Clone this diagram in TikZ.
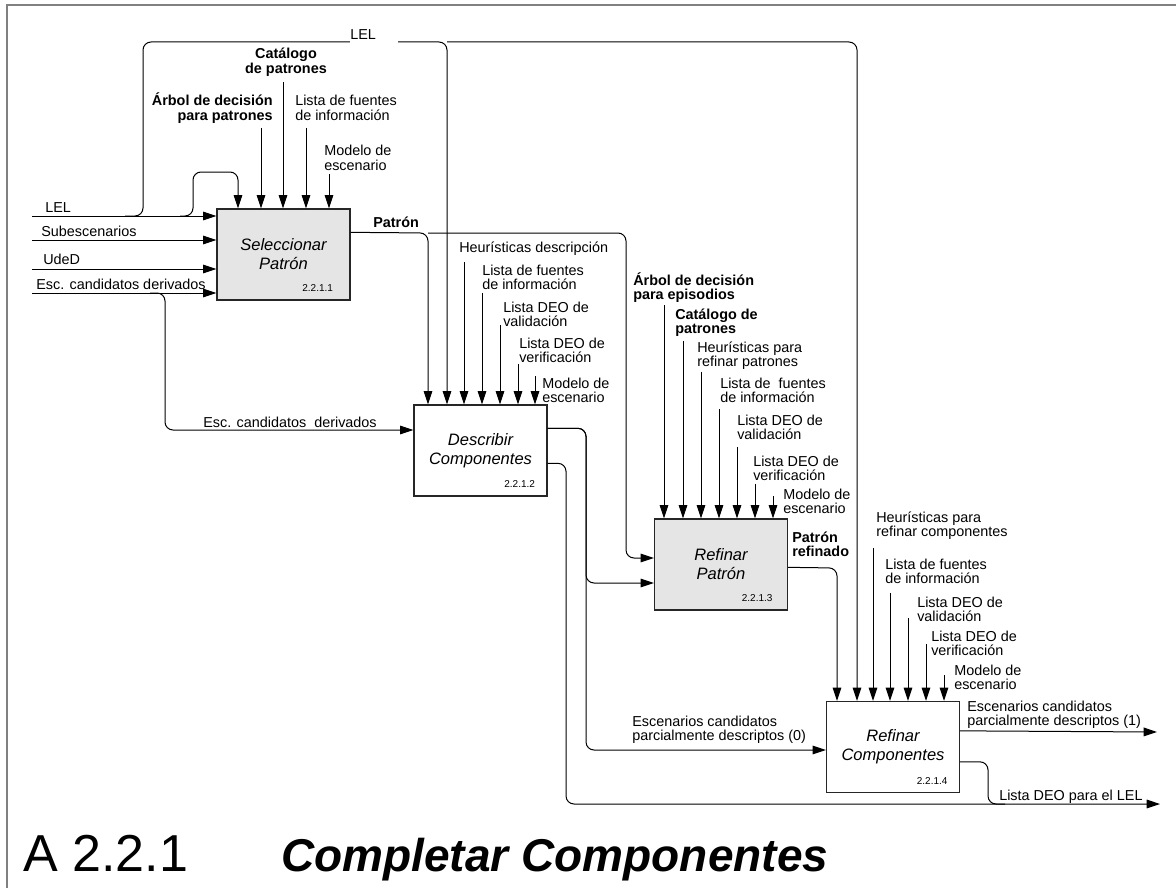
\documentclass[tikz,border=0pt]{standalone}
\usepackage{fontspec}
\setmainfont{Liberation Sans}
\usetikzlibrary{arrows.meta,calc}
\begin{document}
\begin{tikzpicture}[x=0.75pt,y=-0.75pt,
  proc/.style={draw=black!85, line width=1pt, minimum width=99.75pt, minimum height=68.25pt, inner sep=0pt,
    align=center, font=\fontsize{12.4}{14.3}\selectfont\itshape},
  grayproc/.style={proc, fill=black!10},
  num/.style={font=\fontsize{7.5}{9}\selectfont, inner sep=0pt, anchor=base},
  lbl/.style={font=\fontsize{10.8}{11}\selectfont, inner sep=0pt, align=left, anchor=base west},
  blbl/.style={lbl, font=\fontsize{10.8}{11}\selectfont\bfseries},
  two/.style={yshift=-11pt},
  flow/.style={line width=0.75pt, -{Triangle[length=10pt,width=6.5pt]}, rounded corners=6pt},
  wire/.style={line width=0.75pt, rounded corners=6pt}]
\useasboundingbox (0,0) rectangle (1176,888);
% frame
\draw[black!50, line width=1.5pt] (7,888) -- (7,5) -- (1176,5);

% boxes
\node[grayproc] (b1) at (283.5,254.5) {Seleccionar\\Patrón};
\node[proc] (b2) at (480.5,450.5) {Describir\\Componentes};
\node[grayproc] (b3) at (721,564.5) {Refinar\\Patrón};
\node[proc] (b4) at (893,747) {Refinar\\Componentes};
\node[num] (n1) at ($(b1.south east)+(-33,-9)$) {2.2.1.1};
\node[num] (n2) at ($(b2.south east)+(-28,-9)$) {2.2.1.2};
\node[num] (n3) at ($(b3.south east)+(-31,-9)$) {2.2.1.3};
\node[num] (n4) at ($(b4.south east)+(-28,-9)$) {2.2.1.4};

% ---- box 1 inputs
\coordinate (inLEL) at (32,216);
\coordinate (inSub) at (32,240);
\coordinate (inUde) at (32,269);
\coordinate (inEsc) at (32,293);
\draw[flow] (inLEL) -- (inLEL -| b1.west);
\draw[flow] (inSub) -- (inSub -| b1.west);
\draw[flow] (inUde) -- (inUde -| b1.west);
\draw[flow] (inEsc) -- (inEsc -| b1.west);
\node[lbl] (lLEL) at (45,212) {LEL};
\node[lbl] (lSub) at (41,236) {Subescenarios};
\node[lbl] (lUde) at (43,264) {UdeD};
\node[lbl] (lEsc) at (36,289) {Esc. candidatos derivados};

% LEL loop into box1 top
\coordinate (lelA) at (180,216);
\coordinate (lelB) at (193,172);
\coordinate (lelC) at (238,172);
\draw[flow] (lelA) -| (lelB) -- (lelC) -- (lelC |- b1.north);

% LEL top branch
\coordinate (lelD) at (125,216);
\coordinate (lelE) at (143,42);
\coordinate (lelF) at (447,42);
\coordinate (lelG) at (857,42);
\draw[flow] (lelD) -| (lelE) -- (lelF) -- (lelF |- b2.north);
\draw[flow] (lelF) -- (lelG) -- (lelG |- b4.north);
\node[lbl, fill=white, inner ysep=2pt, text width=36pt] (lLELtop) at (350,40) {LEL};

% box1 controls
\coordinate (c1a) at (261,128);
\coordinate (c1b) at (283,82);
\coordinate (c1c) at (306,128);
\coordinate (c1d) at (329,174);
\draw[flow] (c1a) -- (c1a |- b1.north);
\draw[flow] (c1b) -- (c1b |- b1.north);
\draw[flow] (c1c) -- (c1c |- b1.north);
\draw[flow] (c1d) -- (c1d |- b1.north);
\node[blbl, two, align=center, anchor=base] (l1b) at (286,59) {Catálogo\\de patrones};
\node[blbl, two, align=right, anchor=base east] (l1a) at (273,106) {Árbol de decisión\\para patrones};
\node[lbl, two] (l1c) at (295,106) {Lista de fuentes\\de información};
\node[lbl, two] (l1d) at (324,156) {Modelo de\\escenario};

% Patron output
\coordinate (patA) at ($(b1.north east)+(0,24)$);
\coordinate (patB) at (428,233);
\coordinate (patC) at (626,233);
\coordinate (patD) at (626,558);
\draw[flow] (patA) -- (patB) -- (patB |- b2.north);
\draw[flow] (patB) -- (patC) -- (patD) -- (patD -| b3.west);
\node[blbl] (lPat) at (373,227) {Patrón};

% Esc. candidatos derivados to box2
\coordinate (escA) at (150,293);
\coordinate (escB) at (165,430);
\draw[flow] (escA) -| (escB) -- (escB -| b2.west);
\node[lbl] (lEsc2) at (203,427) {Esc. candidatos~~derivados};

% box2 controls
\coordinate (c2a) at (464,262);
\coordinate (c2b) at (482,293);
\coordinate (c2c) at (500,325);
\coordinate (c2d) at (518,364);
\coordinate (c2e) at (535,376);
\foreach \c in {c2a,c2b,c2c,c2d,c2e} \draw[flow] (\c) -- (\c |- b2.north);
\node[lbl] (l2a) at (459,252) {Heurísticas descripción};
\node[lbl, two] (l2b) at (482,275) {Lista de fuentes\\de información};
\node[lbl, two] (l2c) at (503,312) {Lista DEO de\\validación};
\node[lbl, two] (l2d) at (519,348) {Lista DEO de\\verificación};
\node[lbl, two] (l2e) at (542,388) {Modelo de\\escenario};

% box2 outputs
\coordinate (o2a) at ($(b2.north east)+(0,24)$);
\coordinate (o2b) at (586,583);
\coordinate (o2c) at (586,750);
\draw[flow] (o2a) -| (o2b) -- (o2b -| b3.west);
\draw[flow] (o2a) -| (o2c) -- (o2c -| b4.west);
\node[lbl, two] (lE0) at (632,726) {Escenarios candidatos\\parcialmente descriptos (0)};
\coordinate (o2d) at ($(b2.north east)+(0,59)$);
\coordinate (o2e) at (566,804);
\coordinate (outLEL) at (1160,804);
\draw[flow] (o2d) -| (o2e) -- (outLEL);

% box3 controls
\coordinate (c3a) at (664,305);
\coordinate (c3b) at (683,341);
\coordinate (c3c) at (701,372);
\coordinate (c3d) at (719,409);
\coordinate (c3e) at (737,447);
\coordinate (c3f) at (755,484);
\coordinate (c3g) at (773,496);
\foreach \c in {c3a,c3b,c3c,c3d,c3e,c3f,c3g} \draw[flow] (\c) -- (\c |- b3.north);
\node[blbl, two] (l3a) at (633,285) {Árbol de decisión\\para episodios};
\node[blbl, two] (l3b) at (675,319) {Catálogo de\\patrones};
\node[lbl, two] (l3c) at (697,352) {Heurísticas para\\refinar patrones};
\node[lbl, two] (l3d) at (720,388) {Lista de~~fuentes\\de información};
\node[lbl, two] (l3e) at (737,425) {Lista DEO de\\validación};
\node[lbl, two] (l3f) at (753,466) {Lista DEO de\\verificación};
\node[lbl, two] (l3g) at (783,499) {Modelo de\\escenario};

% box3 output
\coordinate (o3a) at ($(b3.north east)+(0,49)$);
\coordinate (o3b) at (837,568);
\draw[flow] (o3a) -- (o3b) -- (o3b |- b4.north);
\node[blbl, two] (lPR) at (792,542) {Patrón\\refinado};

% box4 controls
\coordinate (c4a) at (873,548);
\coordinate (c4b) at (890,593);
\coordinate (c4c) at (908,618);
\coordinate (c4d) at (926,644);
\coordinate (c4e) at (944,675);
\foreach \c in {c4a,c4b,c4c,c4d,c4e} \draw[flow] (\c) -- (\c |- b4.north);
\node[lbl, two] (l4a) at (876,522) {Heurísticas para\\refinar componentes};
\node[lbl, two] (l4b) at (885,569) {Lista de fuentes\\de información};
\node[lbl, two] (l4c) at (917,607) {Lista DEO de\\validación};
\node[lbl, two] (l4d) at (931,641) {Lista DEO de\\verificación};
\node[lbl, two] (l4e) at (954,675) {Modelo de\\escenario};

% box4 outputs
\coordinate (o4a) at ($(b4.north east)+(0,30)$);
\coordinate (outEsc) at (1157,732);
\draw[flow] (o4a) -- (outEsc);
\node[lbl, two] (lE1) at (967,711) {Escenarios candidatos\\parcialmente descriptos (1)};
\coordinate (o4b) at ($(b4.north east)+(0,61)$);
\coordinate (o4c) at (988,804);
\coordinate (o4d) at (1005,804);
\draw[wire] (o4b) -| (o4c) -- (o4d);
\node[lbl] (lDL) at (999,800) {Lista DEO para el LEL};

% titles
\node[inner sep=0pt, anchor=base west, font=\fontsize{39}{40}\selectfont] (tA) at (23,871) {A 2.2.1};
\node[inner sep=0pt, anchor=base west, font=\fontsize{34.5}{36}\selectfont\bfseries\itshape] (tC) at (281,871) {Completar Componentes};
\end{tikzpicture}
\end{document}
